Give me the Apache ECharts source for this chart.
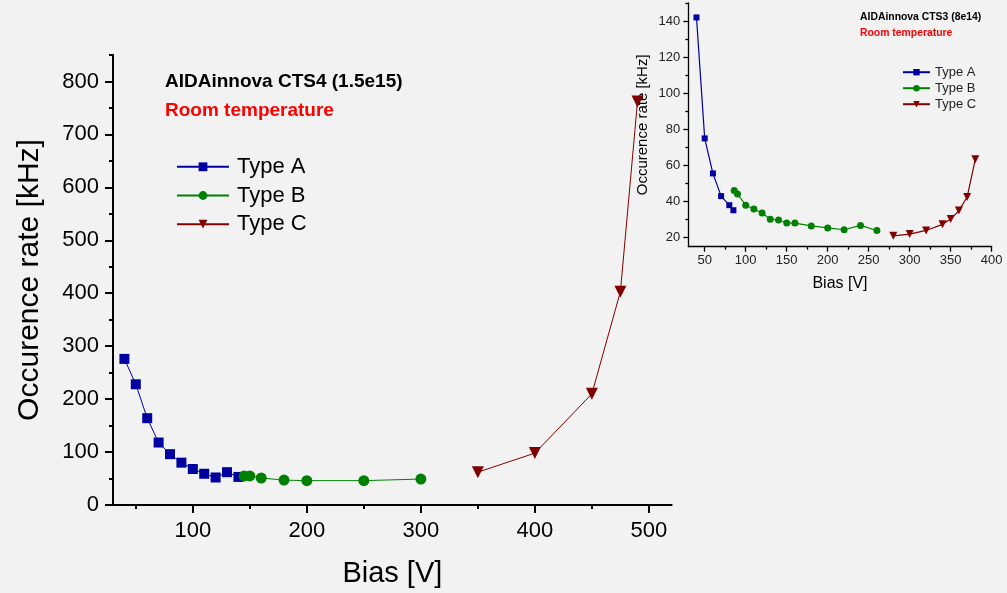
<!DOCTYPE html>
<html>
<head>
<meta charset="utf-8">
<script src="https://cdn.jsdelivr.net/npm/echarts@6/dist/echarts.min.js"></script>
<style>
html,body{margin:0;padding:0;background:#f2f2f2;}
#chart{width:1007px;height:593px;}
</style>
</head>
<body>
<div id="chart"></div>
<script>
// ---- Main chart data (AIDAinnova CTS4 1.5e15) ----
const mainTypeA_x = [40, 50, 60, 70, 80, 90, 100, 110, 120, 130, 140];
const mainTypeA_y = [276, 228, 164, 118, 96, 80, 68, 59, 52, 62, 53];
const mainTypeB_x = [145, 150, 160, 180, 200, 250, 300];
const mainTypeB_y = [55, 55, 51, 47, 46, 46, 49];
const mainTypeC_x = [350, 400, 450, 475, 490];
const mainTypeC_y = [62, 98, 210, 403, 762];

// ---- Inset data (AIDAinnova CTS3 8e14) ----
const insetTypeA_x = [40, 50, 60, 70, 80, 85];
const insetTypeA_y = [142, 75, 55.6, 43, 38, 35.2];
const insetTypeB_x = [86, 90, 100, 110, 120, 130, 140, 150, 160, 180, 200, 220, 240, 260];
const insetTypeB_y = [46.2, 44.2, 38, 35.9, 33.7, 30.2, 29.8, 28.1, 28.1, 26.5, 25.4, 24.4, 26.8, 24];
const insetTypeC_x = [280, 300, 320, 340, 350, 360, 370, 380];
const insetTypeC_y = [21, 22, 24, 27.4, 30.3, 35, 42.5, 63.4];

// ---- Tick labels ----
const mainXTicks = [100, 200, 300, 400, 500];
const mainXMinor = [50, 150, 250, 350, 450];
const mainYTicks = [0, 100, 200, 300, 400, 500, 600, 700, 800];
const mainYMinor = [50, 150, 250, 350, 450, 550, 650, 750, 850];
const insetXTicks = [50, 100, 150, 200, 250, 300, 350, 400];
const insetXMinor = [75, 125, 175, 225, 275, 325, 375];
const insetYTicks = [20, 40, 60, 80, 100, 120, 140];
const insetYMinor = [30, 50, 70, 90, 110, 130, 150];

const names = ['Type A', 'Type B', 'Type C'];
const colors = ['#0000a0', '#008000', '#800000'];

const FONT = 'Liberation Sans, Arial, Helvetica, sans-serif';
const pair = (xs, ys) => xs.map((x, i) => [x, ys[i]]);

function majorAxis(gridIndex, min, max, ticks, opts) {
  return {
    type: 'value', gridIndex, min, max, position: opts.position,
    axisLine: { show: true, onZero: false, lineStyle: { color: '#000', width: opts.lw } },
    axisTick: { show: true, inside: false, length: opts.tick, customValues: ticks, lineStyle: { color: '#000', width: opts.lw } },
    axisLabel: { show: true, customValues: ticks, fontSize: opts.fs, fontFamily: FONT, color: opts.lc, margin: opts.margin },
    splitLine: { show: false },
    name: opts.name, nameLocation: 'middle', nameGap: opts.nameGap,
    nameTextStyle: { fontSize: opts.nfs, fontFamily: FONT, color: '#000' }
  };
}
function minorAxis(gridIndex, min, max, ticks, opts) {
  return {
    type: 'value', gridIndex, min, max, position: opts.position,
    axisLine: { show: false, onZero: false },
    axisTick: { show: true, inside: false, length: opts.tick, customValues: ticks, lineStyle: { color: '#000', width: opts.lw } },
    axisLabel: { show: false },
    splitLine: { show: false }
  };
}

const mainSym = [
  { symbol: 'rect', size: 10, rot: 0 },
  { symbol: 'circle', size: 11, rot: 0 },
  { symbol: 'triangle', size: 12, rot: 180 }
];
const insetSym = [
  { symbol: 'rect', size: 6, rot: 0 },
  { symbol: 'circle', size: 7, rot: 0 },
  { symbol: 'triangle', size: 8, rot: 180 }
];
const mainData = [pair(mainTypeA_x, mainTypeA_y), pair(mainTypeB_x, mainTypeB_y), pair(mainTypeC_x, mainTypeC_y)];
const insetData = [pair(insetTypeA_x, insetTypeA_y), pair(insetTypeB_x, insetTypeB_y), pair(insetTypeC_x, insetTypeC_y)];

const series = [];
for (let i = 0; i < 3; i++) {
  series.push({
    type: 'line', name: names[i], xAxisIndex: 0, yAxisIndex: 0, data: mainData[i],
    symbol: mainSym[i].symbol, symbolSize: mainSym[i].size, symbolRotate: mainSym[i].rot,
    itemStyle: { color: colors[i] }, lineStyle: { color: colors[i], width: 1 },
    emphasis: { disabled: true }, z: 2
  });
}
for (let i = 0; i < 3; i++) {
  series.push({
    type: 'line', name: names[i], xAxisIndex: 2, yAxisIndex: 2, data: insetData[i],
    symbol: insetSym[i].symbol, symbolSize: insetSym[i].size, symbolRotate: insetSym[i].rot,
    itemStyle: { color: colors[i] }, lineStyle: { color: colors[i], width: 1.2 },
    emphasis: { disabled: true }, z: 3
  });
}

const option = {
  backgroundColor: '#f2f2f2',
  animation: false,
  title: [
    { text: 'AIDAinnova CTS4 (1.5e15)', left: 165, top: 72.5, padding: 0,
      textStyle: { fontSize: 19, fontWeight: 'bold', fontFamily: FONT, color: '#000', lineHeight: 19 } },
    { text: 'Room temperature', left: 165, top: 101.5, padding: 0,
      textStyle: { fontSize: 19, fontWeight: 'bold', fontFamily: FONT, color: '#ff0000', lineHeight: 19 } },
    { text: 'AIDAinnova CTS3 (8e14)', left: 860, top: 12, padding: 0,
      textStyle: { fontSize: 10.4, fontWeight: 'bold', fontFamily: FONT, color: '#000', lineHeight: 11 } },
    { text: 'Room temperature', left: 860, top: 28, padding: 0,
      textStyle: { fontSize: 10.4, fontWeight: 'bold', fontFamily: FONT, color: '#ff0000', lineHeight: 11 } }
  ],
  legend: [
    { data: names, orient: 'vertical', left: 176, top: 152.8, padding: 0,
      itemWidth: 52, itemHeight: 11, itemGap: 0.7,
      textStyle: { fontSize: 22, fontFamily: FONT, color: '#000', lineHeight: 28, padding: [0, 0, 0, 3] },
      selectedMode: false },
    { data: names, orient: 'vertical', left: 902, top: 64.2, padding: 0,
      itemWidth: 27, itemHeight: 8, itemGap: 0,
      textStyle: { fontSize: 13, fontFamily: FONT, color: '#222', lineHeight: 16 },
      selectedMode: false }
  ],
  grid: [
    { left: 113, top: 55, width: 558.7, height: 450, containLabel: false },
    { left: 688.3, top: 3, width: 303.4, height: 243.7, containLabel: false }
  ],
  xAxis: [
    majorAxis(0, 30, 520, mainXTicks, { position: 'bottom', lw: 2, tick: 8, fs: 22, lc: '#000', margin: 15, name: 'Bias [V]', nameGap: 54, nfs: 29 }),
    minorAxis(0, 30, 520, mainXMinor, { position: 'bottom', lw: 2, tick: 4 }),
    majorAxis(1, 30, 400, insetXTicks, { position: 'bottom', lw: 1.3, tick: 5, fs: 13, lc: '#222', margin: 7, name: 'Bias [V]', nameGap: 29, nfs: 16 }),
    minorAxis(1, 30, 400, insetXMinor, { position: 'bottom', lw: 1.3, tick: 3 })
  ],
  yAxis: [
    majorAxis(0, 0, 850, mainYTicks, { position: 'left', lw: 2, tick: 8, fs: 22, lc: '#000', margin: 14, name: 'Occurence rate [kHz]', nameGap: 68, nfs: 30 }),
    minorAxis(0, 0, 850, mainYMinor, { position: 'left', lw: 2, tick: 4 }),
    majorAxis(1, 15, 150, insetYTicks, { position: 'left', lw: 1.3, tick: 5, fs: 13, lc: '#222', margin: 8, name: 'Occurence rate [kHz]', nameGap: 38, nfs: 15 }),
    minorAxis(1, 15, 150, insetYMinor, { position: 'left', lw: 1.3, tick: 3 })
  ],
  series: series
};

const chart = echarts.init(document.getElementById('chart'), null, { renderer: 'canvas' });
chart.setOption(option);
</script>
</body>
</html>
